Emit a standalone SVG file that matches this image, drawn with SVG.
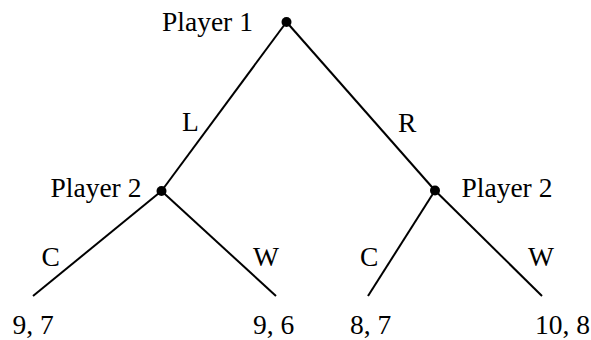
<svg xmlns="http://www.w3.org/2000/svg" width="591" height="340" viewBox="0 0 591 340">
<style>
text{font-family:"Liberation Serif","Times New Roman",serif;font-size:27.5px;fill:#000}
.e{stroke:#000;stroke-width:2;fill:none}
.d{fill:#000}
</style>
<rect width="591" height="340" fill="#fff"/>
<g id="connectors">
<line class="e" x1="286.5" y1="22" x2="161.5" y2="191"/>
<line class="e" x1="286.5" y1="22" x2="435" y2="190.5"/>
<line class="e" x1="161.5" y1="191" x2="33" y2="296"/>
<line class="e" x1="161.5" y1="191" x2="276" y2="296"/>
<line class="e" x1="435" y1="190.5" x2="368" y2="296"/>
<line class="e" x1="435" y1="190.5" x2="542" y2="296"/>
<text x="182" y="131">L</text>
<text x="398" y="131.5">R</text>
<text x="41.5" y="266">C</text>
<text x="253" y="266">W</text>
<text x="360" y="266">C</text>
<text x="528" y="266">W</text>
</g>
<g id="player1">
<circle class="d" cx="286.5" cy="22" r="5"/>
<text x="162" y="30.5">Player 1</text>
</g>
<g id="player2-left">
<circle class="d" cx="161.5" cy="191" r="5"/>
<text x="50.5" y="197">Player 2</text>
</g>
<g id="player2-right">
<circle class="d" cx="435" cy="190.5" r="5"/>
<text x="461.5" y="197">Player 2</text>
</g>
<g id="leaf-LC"><text x="12.5" y="334">9, 7</text></g>
<g id="leaf-LW"><text x="253" y="334">9, 6</text></g>
<g id="leaf-RC"><text x="350" y="334">8, 7</text></g>
<g id="leaf-RW"><text x="535" y="334">10, 8</text></g>
</svg>
